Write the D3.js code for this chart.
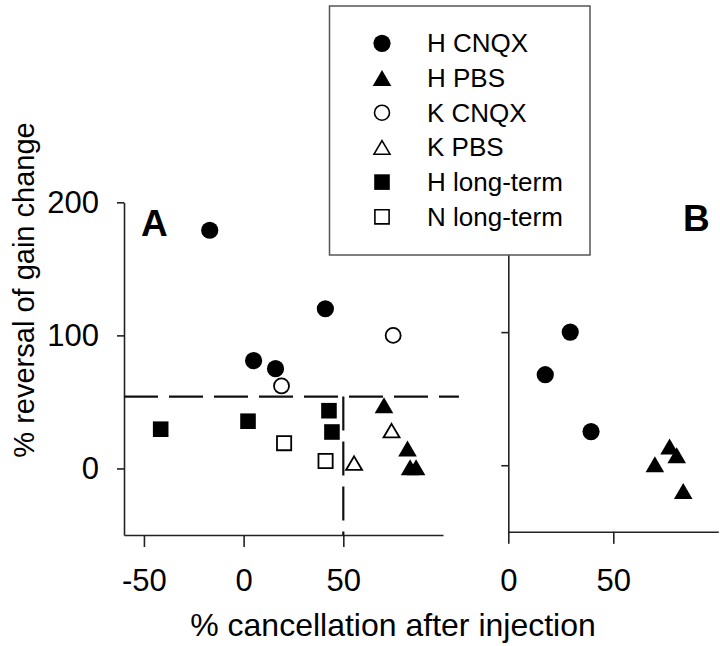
<!DOCTYPE html>
<html><head><meta charset="utf-8">
<script src="https://cdn.jsdelivr.net/npm/d3@7"></script>
<style>body{margin:0;background:#fff}svg{display:block}text{font-family:"Liberation Sans",Arial,sans-serif;fill:#000}</style>
</head><body><svg id="c" width="720" height="646"></svg>
<script>
// Panel A data
const hCnqxA = [[-17,179],[41,120],[5,81],[16,75]];
const kCnqxA = [[75,100],[19,62]];
const hPbsA = [[70.4,47.5],[82.2,15],[83.5,1],[86.5,1]];
const kPbsA = [[55.4,4],[74.2,28.4]];
const hLongA = [[-41.6,29.5],[2.2,35.5],[42.8,43.4],[44.3,27.4]];
const nLongA = [[20.3,19],[41.1,5.6]];
// Panel B data
const hCnqxB = [[17.6,68],[29.5,100],[39.4,25.3]];
const hPbsB = [[69.8,0.8],[76.8,14],[80.2,7.5],[83.3,-19.3]];
// reference lines
const refY = 54, refX = 50;
// ticks
const xTicksA = [-50,0,50], yTicks = [0,100,200], xTicksB = [0,50], yTicksB = [0,100];
const legendLabels = ["H CNQX","H PBS","K CNQX","K PBS","H long-term","N long-term"];

const svg = d3.select("#c");
const xA = d3.scaleLinear().domain([-60,100]).range([124,443]);
const yA = d3.scaleLinear().domain([-50,200]).range([535,202.3]);
const xB = d3.scaleLinear().domain([0,100]).range([508.3,718.3]);
const yB = d3.scaleLinear().domain([-50,200]).range([531.8,199]);
const fmt = d => String(d);

function axes(g){ g.selectAll("path,line").attr("stroke","#222").attr("stroke-width",1.6);
  g.selectAll("text").attr("font-size",31).attr("font-family","Liberation Sans, Arial, sans-serif").attr("fill","#000"); }

// Panel A axes
svg.append("g").attr("transform",`translate(0,${yA.range()[0]})`)
  .call(d3.axisBottom(xA).tickValues(xTicksA).tickSizeInner(12).tickSizeOuter(0).tickPadding(22).tickFormat(fmt))
  .call(axes);
svg.append("g").attr("transform",`translate(${xA.range()[0]},0)`)
  .call(d3.axisLeft(yA).tickValues(yTicks).tickSizeInner(7).tickSizeOuter(0).tickPadding(18).tickFormat(fmt))
  .call(axes);
// Panel B axes
svg.append("g").attr("transform",`translate(0,${yB.range()[0]})`)
  .call(d3.axisBottom(xB).tickValues(xTicksB).tickSizeInner(12).tickSizeOuter(0).tickPadding(25).tickFormat(fmt))
  .call(axes);
svg.append("g").attr("transform",`translate(${xB.range()[0]},0)`)
  .call(d3.axisLeft(yB).tickValues(yTicksB).tickSizeInner(7).tickSizeOuter(0).tickFormat(""))
  .call(axes);

// dashed reference lines
svg.append("line").attr("x1",xA(-60)).attr("x2",xA(108)).attr("y1",yA(refY)).attr("y2",yA(refY))
  .attr("stroke","#111").attr("stroke-width",2.2).attr("stroke-dasharray","34,11");
svg.append("line").attr("x1",xA(refX)).attr("x2",xA(refX)).attr("y1",yA(refY)).attr("y2",yA(-50))
  .attr("stroke","#111").attr("stroke-width",2.2).attr("stroke-dasharray","34,11");

// marker drawing
const tri = (w,h)=>`M0,${-h/2}L${w/2},${h/2}L${-w/2},${h/2}Z`;
const shapes = {
  circle: d3.symbol().type(d3.symbolCircle).size(Math.PI*8.6*8.6)(),
  ocircle: d3.symbol().type(d3.symbolCircle).size(Math.PI*7.5*7.5)(),
  square: d3.symbol().type(d3.symbolSquare).size(15.6*15.6)(),
  osquare: d3.symbol().type(d3.symbolSquare).size(14.2*14.2)(),
  triangle: tri(18.6,16),
  otriangle: tri(16,13.6)
};
const styles = [
  {shape:"circle",fill:"#000"},
  {shape:"triangle",fill:"#000"},
  {shape:"ocircle",fill:"#fff"},
  {shape:"otriangle",fill:"#fff"},
  {shape:"square",fill:"#000"},
  {shape:"osquare",fill:"#fff"}
];
function plot(data, st, xs, ys){
  svg.append("g").selectAll("path").data(data).join("path")
    .attr("d",shapes[st.shape])
    .attr("transform",d=>`translate(${xs(d[0])},${ys(d[1])})`)
    .attr("fill",st.fill).attr("stroke","#000").attr("stroke-width",st.fill==="#000"?0:1.8);
}
plot(hCnqxA, styles[0], xA, yA);
plot(hPbsA, styles[1], xA, yA);
plot(kCnqxA, styles[2], xA, yA);
plot(kPbsA, styles[3], xA, yA);
plot(hLongA, styles[4], xA, yA);
plot(nLongA, styles[5], xA, yA);
plot(hCnqxB, styles[0], xB, yB);
plot(hPbsB, styles[1], xB, yB);

// panel letters
svg.append("text").attr("x",141).attr("y",236).attr("font-size",37).attr("font-weight","bold").text("A");
svg.append("text").attr("x",683).attr("y",231).attr("font-size",37).attr("font-weight","bold").text("B");

// axis titles
svg.append("text").attr("x",393).attr("y",636).attr("text-anchor","middle").attr("font-size",32)
  .text("% cancellation after injection");
svg.append("text").attr("transform","translate(34,290) rotate(-90)").attr("text-anchor","middle").attr("font-size",29)
  .text("% reversal of gain change");

// legend
const lg = svg.append("g");
lg.append("rect").attr("x",329.5).attr("y",6).attr("width",260.5).attr("height",249)
  .attr("fill","#fff").attr("stroke","#555").attr("stroke-width",1.5);
const rows = lg.selectAll("g.row").data(legendLabels).join("g").attr("class","row")
  .attr("transform",(d,i)=>`translate(0,${43.3+i*34.7})`);
rows.append("path").attr("d",(d,i)=>shapes[styles[i].shape])
  .attr("transform","translate(382,0)")
  .attr("fill",(d,i)=>styles[i].fill).attr("stroke","#000")
  .attr("stroke-width",(d,i)=>styles[i].fill==="#000"?0:1.6);
rows.append("text").attr("x",427).attr("y",9).attr("font-size",26).text(d=>d);
</script></body></html>
